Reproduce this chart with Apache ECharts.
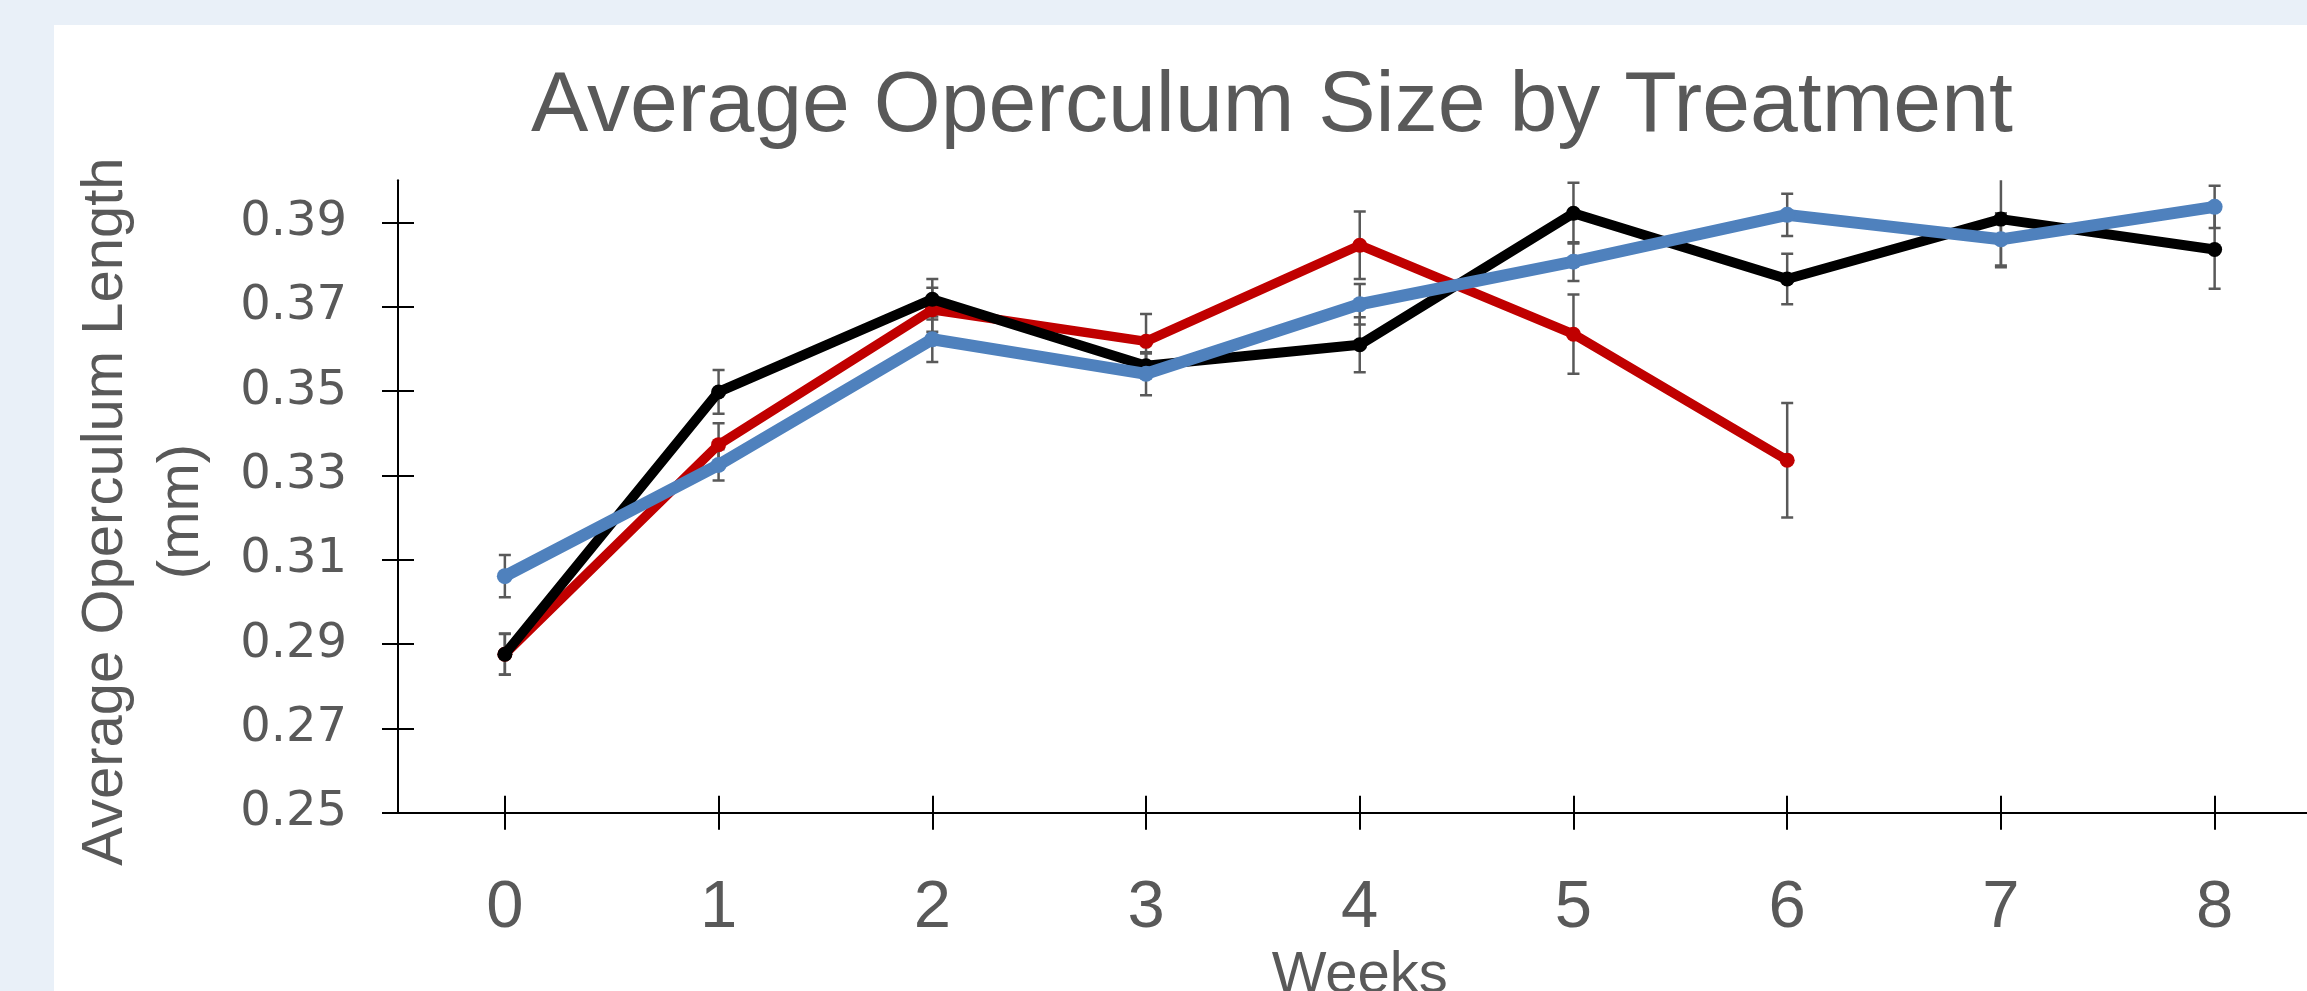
<!DOCTYPE html>
<html>
<head>
<meta charset="utf-8">
<script src="https://cdn.jsdelivr.net/npm/echarts@6/dist/echarts.min.js"></script>
<style>
html,body{margin:0;padding:0;background:#E9F0F8;}
#chart{width:2307px;height:991px;}
</style>
</head>
<body>
<div id="chart"></div>
<script>
// ---- Data ----
const weeks = ['0', '1', '2', '3', '4', '5', '6', '7', '8'];
const yTicks = [0.25, 0.27, 0.29, 0.31, 0.33, 0.35, 0.37, 0.39];

const redMean  = [0.2876, 0.3373, 0.3693, 0.3618, 0.3846, 0.3635, 0.3336, null, null];
const redErr   = [0.0048, 0.0051, 0.0052, 0.0065, 0.0080, 0.0094, 0.0136, null, null];

const blackMean = [0.2876, 0.3498, 0.3718, 0.3560, 0.3610, 0.3922, 0.3766, 0.3908, 0.3836];
const blackErr  = [0.0049, 0.0052, 0.0048, 0.0029, 0.0065, 0.0072, 0.0060, 0.0114, 0.0093];

const blueMean = [0.3061, 0.3325, 0.3623, 0.3541, 0.3706, 0.3807, 0.3918, 0.3860, 0.3937];
const blueErr  = [0.0050, 0.0037, 0.0054, 0.0051, 0.0048, 0.0046, 0.0050, 0.0062, 0.0050];

const TEXT = '#595959';

function errData(mean, err) {
  const out = [];
  mean.forEach((m, i) => { if (m != null) out.push([i, m - err[i], m + err[i]]); });
  return out;
}

function errSeries(name, mean, err) {
  return {
    type: 'custom',
    name: name,
    clip: true,
    z: 1,
    silent: true,
    data: errData(mean, err),
    encode: { x: 0, y: [1, 2] },
    renderItem: function (params, api) {
      const x = api.value(0);
      const lo = api.coord([x, api.value(1)]);
      const hi = api.coord([x, api.value(2)]);
      const hw = 6;
      const style = { stroke: TEXT, lineWidth: 2.5 };
      return {
        type: 'group',
        children: [
          { type: 'line', shape: { x1: lo[0], y1: lo[1], x2: hi[0], y2: hi[1] }, style: style },
          { type: 'line', shape: { x1: lo[0] - hw, y1: lo[1], x2: lo[0] + hw, y2: lo[1] }, style: style },
          { type: 'line', shape: { x1: hi[0] - hw, y1: hi[1], x2: hi[0] + hw, y2: hi[1] }, style: style }
        ]
      };
    }
  };
}

function lineSeries(name, mean, color, width, symSize, z) {
  return {
    type: 'line',
    name: name,
    data: mean,
    z: z,
    symbol: 'circle',
    symbolSize: symSize,
    showSymbol: true,
    connectNulls: false,
    itemStyle: { color: color },
    lineStyle: { color: color, width: width },
    emphasis: { disabled: true }
  };
}

const chart = echarts.init(document.getElementById('chart'), null, { renderer: 'canvas' });

const option = {
  animation: false,
  backgroundColor: '#E9F0F8',
  graphic: [{
    type: 'rect',
    z: -10,
    silent: true,
    shape: { x: 54, y: 25, width: 2253, height: 966 },
    style: { fill: '#FFFFFF' }
  }],
  title: {
    text: 'Average Operculum Size by Treatment',
    left: 1272,
    textAlign: 'center',
    top: 64,
    padding: 0,
    textStyle: {
      color: TEXT,
      fontFamily: 'Liberation Sans',
      fontWeight: 'normal',
      fontSize: 86
    }
  },
  grid: {
    left: 398,
    right: -14.5,
    top: 180.3,
    bottom: 178.3,
    containLabel: false,
    outerBoundsMode: 'none'
  },
  xAxis: [{
    type: 'category',
    data: weeks,
    position: 'bottom',
    boundaryGap: true,
    name: 'Weeks',
    nameLocation: 'middle',
    nameGap: 126,
    nameTextStyle: { color: TEXT, fontFamily: 'Liberation Sans', fontSize: 58 },
    axisLine: { show: true, lineStyle: { color: '#000', width: 2 } },
    axisTick: { show: true, alignWithLabel: true, inside: false, length: 17, lineStyle: { color: '#000', width: 2 } },
    axisLabel: { color: TEXT, fontFamily: 'Liberation Sans', fontSize: 67, margin: 62 },
    splitLine: { show: false }
  }, {
    type: 'category',
    data: weeks,
    position: 'bottom',
    offset: 0,
    boundaryGap: true,
    axisLine: { show: false },
    axisTick: { show: true, alignWithLabel: true, inside: true, length: 17, lineStyle: { color: '#000', width: 2 } },
    axisLabel: { show: false },
    splitLine: { show: false }
  }],
  yAxis: [{
    type: 'value',
    min: 0.25,
    max: 0.40,
    position: 'left',
    name: 'Average Operculum Length\n(mm)',
    nameLocation: 'middle',
    nameRotate: 90,
    nameGap: 178,
    nameTextStyle: {
      color: TEXT, fontFamily: 'Liberation Sans', fontSize: 58, lineHeight: 76,
      align: 'center', padding: [0, 30, 0, 0]
    },
    axisLine: { show: true, lineStyle: { color: '#000', width: 2 } },
    axisTick: { show: true, inside: false, length: 16, customValues: yTicks, lineStyle: { color: '#000', width: 2 } },
    axisLabel: {
      color: TEXT, fontFamily: 'DejaVu Sans', fontSize: 48, margin: 51,
      customValues: yTicks,
      formatter: function (v) { return v.toFixed(2); }
    },
    splitLine: { show: false }
  }, {
    type: 'value',
    min: 0.25,
    max: 0.40,
    position: 'left',
    offset: 0,
    axisLine: { show: false },
    axisTick: { show: true, inside: true, length: 16, customValues: yTicks, lineStyle: { color: '#000', width: 2 } },
    axisLabel: { show: false, customValues: yTicks },
    splitLine: { show: false }
  }],
  series: [
    errSeries('Red SE', redMean, redErr),
    errSeries('Black SE', blackMean, blackErr),
    errSeries('Blue SE', blueMean, blueErr),
    lineSeries('Red', redMean, '#C00000', 9.5, 15, 2),
    lineSeries('Black', blackMean, '#000000', 10, 15, 3),
    lineSeries('Blue', blueMean, '#4F81BD', 12, 16, 4)
  ]
};

chart.setOption(option);
</script>
</body>
</html>
